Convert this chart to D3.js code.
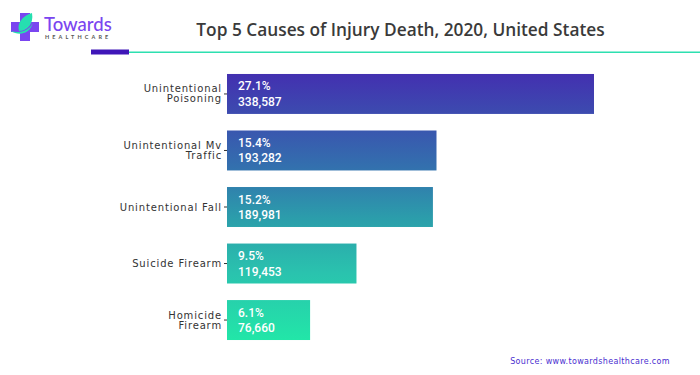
<!DOCTYPE html>
<html>
<head>
<meta charset="utf-8">
<script src="https://cdn.jsdelivr.net/npm/d3@7"></script>
<style>
  html, body { margin: 0; padding: 0; background: #fff; }
  svg { display: block; }
</style>
</head>
<body>
<div id="chart"></div>
<script>
const causes = ["Unintentional Poisoning", "Unintentional Mv Traffic", "Unintentional Fall", "Suicide Firearm", "Homicide Firearm"];
const deaths = [338587, 193282, 189981, 119453, 76660];
const shares = ["27.1%", "15.4%", "15.2%", "9.5%", "6.1%"];
const labelLines = [["Unintentional", "Poisoning"], ["Unintentional Mv", "Traffic"], ["Unintentional Fall"], ["Suicide Firearm"], ["Homicide", "Firearm"]];

const width = 700, height = 375;
const margin = {top: 65.5, right: 106, bottom: 26.5, left: 227};

const svg = d3.select("#chart")
  .append("svg")
  .attr("width", width)
  .attr("height", height);

const x = d3.scaleLinear()
  .domain([0, d3.max(deaths)])
  .range([margin.left, width - margin.right]);

const y = d3.scaleBand()
  .domain(causes)
  .range([margin.top, height - margin.bottom])
  .paddingInner(0.293)
  .paddingOuter(0.15);

// one gradient runs over all the bars, top to bottom
const grad = svg.append("defs").append("linearGradient")
  .attr("id", "barGrad")
  .attr("gradientUnits", "userSpaceOnUse")
  .attr("x1", 0).attr("x2", 0)
  .attr("y1", y(causes[0]))
  .attr("y2", y(causes[4]) + y.bandwidth());
grad.append("stop").attr("offset", "0%").attr("stop-color", "#4330b0");
grad.append("stop").attr("offset", "35%").attr("stop-color", "#3370ae");
grad.append("stop").attr("offset", "55%").attr("stop-color", "#2b9fab");
grad.append("stop").attr("offset", "75%").attr("stop-color", "#2ac3ae");
grad.append("stop").attr("offset", "100%").attr("stop-color", "#22e6a8");

// logo
const logo = svg.append("g").attr("class", "logo");
logo.append("path")
  .attr("d", "M20 13H30V22H39V32H30V41H20V32H11V22H20Z")
  .attr("fill", "#7a45f0");
logo.append("path")
  .attr("d", "M32 13C22 16 17 23 19 31C27 31 34 24 32 13Z M11 31C18 36 30 35 33 22C31 29 22 34 11 31Z")
  .attr("fill", "#26dfb0");
logo.append("text")
  .attr("x", 44).attr("y", 31)
  .attr("font-family", "Lato, sans-serif")
  .attr("font-size", 18.5)
  .attr("font-weight", 500)
  .attr("fill", "#7a45f0")
  .text("Towards");
logo.append("text")
  .attr("x", 45).attr("y", 38.5)
  .attr("font-family", "Lato, sans-serif")
  .attr("font-size", 5.5)
  .attr("letter-spacing", 3.1)
  .attr("font-weight", 700)
  .attr("fill", "#555")
  .text("HEALTHCARE");

// title + rule
svg.append("text")
  .attr("x", 400.5).attr("y", 36)
  .attr("text-anchor", "middle")
  .attr("font-family", "'Open Sans', sans-serif")
  .attr("font-size", 17.3)
  .attr("font-weight", 600)
  .attr("fill", "#3a3a3a")
  .text("Top 5 Causes of Injury Death, 2020, United States");
svg.append("rect")
  .attr("x", 129).attr("y", 51.5)
  .attr("width", 571).attr("height", 1.5)
  .attr("fill", "#2de0b0");
svg.append("rect")
  .attr("x", 91).attr("y", 49.5)
  .attr("width", 38).attr("height", 5)
  .attr("fill", "#3f16b8");

// bars
svg.append("g").selectAll("rect")
  .data(causes)
  .enter()
  .append("rect")
  .attr("x", x(0))
  .attr("y", d => y(d))
  .attr("width", (d, i) => x(deaths[i]) - x(0))
  .attr("height", y.bandwidth())
  .attr("fill", "url(#barGrad)");

// category axis
const axis = svg.append("g")
  .attr("transform", `translate(${x(0)},0)`)
  .call(d3.axisLeft(y).tickSize(3).tickPadding(3).tickFormat(""));
axis.select(".domain").remove();
axis.selectAll(".tick line").attr("stroke", "#333");

const labels = svg.append("g").selectAll("text")
  .data(causes)
  .enter()
  .append("text")
  .attr("text-anchor", "end")
  .attr("font-family", "'DejaVu Sans', sans-serif")
  .attr("font-size", 10)
  .attr("letter-spacing", 0.85)
  .attr("fill", "#333");
labels.each(function(d, i) {
  const lines = labelLines[i];
  const c = y(d) + y.bandwidth() / 2;
  d3.select(this).selectAll("tspan")
    .data(lines)
    .enter()
    .append("tspan")
    .attr("x", 222)
    .attr("y", (l, k) => c + 3.5 + (k - (lines.length - 1) / 2) * 10)
    .text(l => l);
});

// values inside bars
const valueFont = "Roboto, sans-serif";
svg.append("g").selectAll("text")
  .data(causes)
  .enter()
  .append("text")
  .attr("x", x(0) + 11)
  .attr("y", d => y(d) + 16.5)
  .attr("font-family", valueFont)
  .attr("font-size", 12)
  .attr("font-weight", 500)
  .attr("fill", "#fff")
  .text((d, i) => shares[i]);
svg.append("g").selectAll("text")
  .data(causes)
  .enter()
  .append("text")
  .attr("x", x(0) + 11)
  .attr("y", d => y(d) + 32)
  .attr("font-family", valueFont)
  .attr("font-size", 12)
  .attr("font-weight", 500)
  .attr("fill", "#fff")
  .text((d, i) => d3.format(",")(deaths[i]));

// source
svg.append("text")
  .attr("x", 670).attr("y", 364)
  .attr("text-anchor", "end")
  .attr("font-family", "'DejaVu Sans', sans-serif")
  .attr("font-size", 8)
  .attr("letter-spacing", 0.35)
  .attr("fill", "#4a2fd0")
  .text("Source: www.towardshealthcare.com");
</script>
</body>
</html>
